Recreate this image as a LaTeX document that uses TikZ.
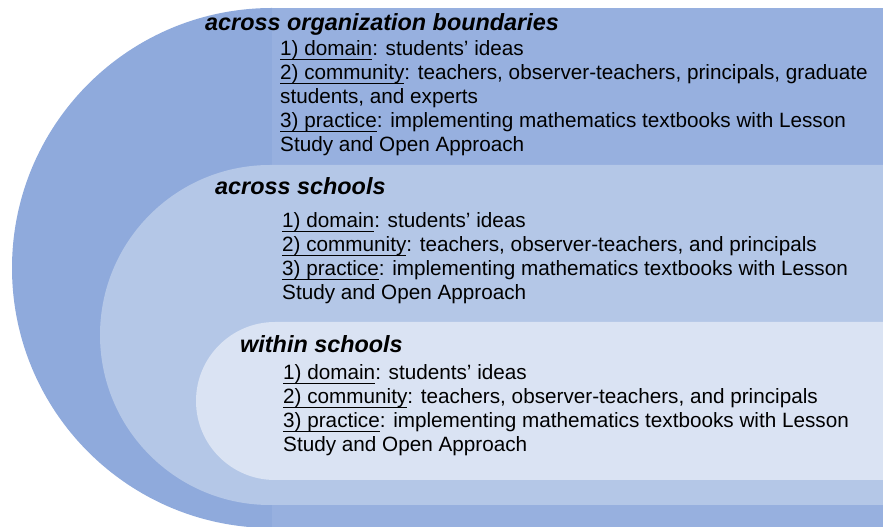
\documentclass[tikz,border=0pt]{standalone}
\usepackage{fontspec}
\setmainfont{Liberation Sans}
\usetikzlibrary{positioning}
\definecolor{outerblue}{HTML}{8FAADC}
\definecolor{outerrect}{HTML}{97B0DF}
\definecolor{midblue}{HTML}{B4C7E7}
\definecolor{innerblue}{HTML}{DAE3F3}
\newsavebox\ulbox
\newcommand{\uln}[1]{\sbox\ulbox{#1}\rlap{\rule[-4.5pt]{\wd\ulbox}{1.5pt}}\usebox\ulbox}
\tikzset{
    heading/.style={
           anchor=base west,
           inner sep=0pt,
           font=\fontsize{23.4}{28}\selectfont\bfseries\itshape
           },
    % base of a multi-line node sits on its last line
    items/.style={
           anchor=base west,
           inner sep=0pt,
           align=left,
           font=\fontsize{20.7}{24}\selectfont
           },
}

\begin{document}
\begin{tikzpicture}[x=1pt,y=1pt]
\useasboundingbox (0,0) rectangle (883,527);

 % outer band: half disc plus strip
 \fill[outerblue] (272,519) arc[start angle=90, end angle=270, radius=260] -- cycle;
 \fill[outerrect] (272,-1) rectangle (883,519);

 % middle band
 \fill[midblue] (883,362) -- (270,362) arc[start angle=90, end angle=270, radius=170] -- (883,22) -- cycle;

 % inner band
 \fill[innerblue] (883,205) -- (275,205) arc[start angle=90, end angle=270, radius=79] -- (883,47) -- cycle;

 % across organization boundaries
 \node[heading] (ORGHEAD) at (205,496) {across organization boundaries};
 \node[items, xshift=75pt, yshift=-121pt] (ORGITEMS) at (ORGHEAD.base west) {%
\uln{1) domain}: students' ideas\\
\uln{2) community}: teachers, observer-teachers, principals, graduate\\
students, and experts\\
\uln{3) practice}: implementing mathematics textbooks with Lesson\\
Study and Open Approach};

 % across schools
 \node[heading] (SCHHEAD) at (215,332) {across schools};
 \node[items, xshift=67pt, yshift=-105pt] (SCHITEMS) at (SCHHEAD.base west) {%
\uln{1) domain}: students' ideas\\
\uln{2) community}: teachers, observer-teachers, and principals\\
\uln{3) practice}: implementing mathematics textbooks with Lesson\\
Study and Open Approach};

 % within schools
 \node[heading] (WITHHEAD) at (240,174) {within schools};
 \node[items, xshift=43pt, yshift=-99pt] (WITHITEMS) at (WITHHEAD.base west) {%
\uln{1) domain}: students' ideas\\
\uln{2) community}: teachers, observer-teachers, and principals\\
\uln{3) practice}: implementing mathematics textbooks with Lesson\\
Study and Open Approach};

\end{tikzpicture}
\end{document}
